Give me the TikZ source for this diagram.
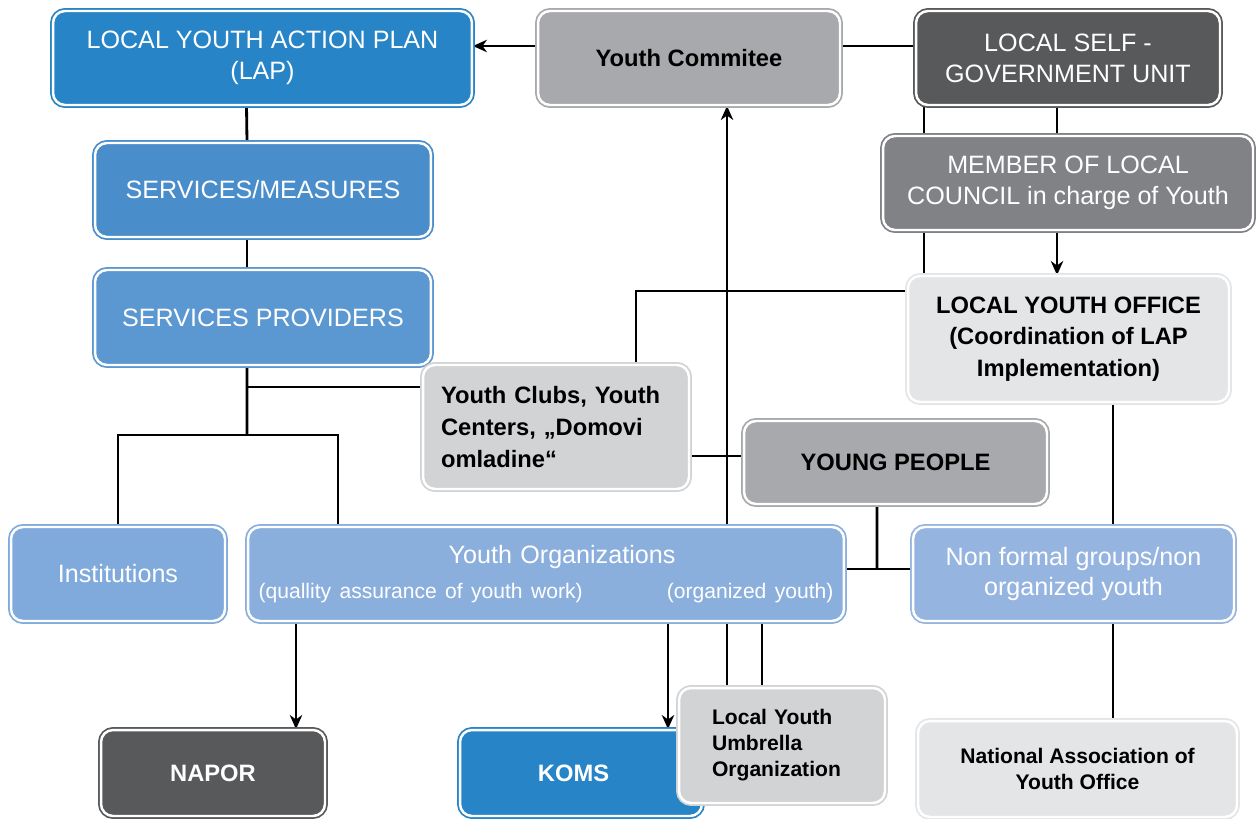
\documentclass[tikz,border=0pt]{standalone}
\usepackage{fontspec}
\setmainfont{Liberation Sans}
\usetikzlibrary{arrows.meta,backgrounds}
\definecolor{lapblue}{HTML}{2785C7}
\definecolor{measblue}{HTML}{4A8DCB}
\definecolor{provblue}{HTML}{5B97D0}
\definecolor{instblue}{HTML}{80AADB}
\definecolor{orgblue}{HTML}{8BAFDD}
\definecolor{nonfblue}{HTML}{95B5E0}
\definecolor{midgray}{HTML}{A7A9AC}
\definecolor{darkgray}{HTML}{58595B}
\definecolor{councilgray}{HTML}{808285}
\definecolor{clubgray}{HTML}{D1D3D4}
\definecolor{officegray}{HTML}{E4E5E6}
\newcommand{\whitefont}{\fontsize{14.3}{17.6}\selectfont}
\newcommand{\darkfont}{\bfseries\fontsize{13.5}{18}\selectfont}
\newcommand{\smallfont}{\bfseries\fontsize{12}{14.8}\selectfont}

\begin{document}
\begin{tikzpicture}[x=0.02cm,y=-0.02cm,
  box/.style={draw=#1,fill=#1,rounded corners=0.24cm,line width=1pt,
    double=white,double distance=1.4pt,align=center,inner sep=2pt},
  wtext/.style={text=white,font=\whitefont},
  dtext/.style={text=black,font=\darkfont},
  line/.style={line width=1.6pt,black},
  arr/.style={line,-{Stealth[length=8pt,width=7pt,inset=2.5pt]}}]
 \useasboundingbox (0,0) rectangle (1256,818);
 \clip (0,0) rectangle (1256,818);
 \begin{scope}[on background layer]
  \fill[white] (0,0) rectangle (1256,818);
 \end{scope}

 % top row
 \node[box=lapblue,wtext,minimum width=8.38cm,minimum height=1.88cm] (lap) at (262.5,58) {LOCAL YOUTH ACTION PLAN\\(LAP)};
 \node[box=midgray,dtext,minimum width=6.04cm,minimum height=1.88cm] (comm) at (689,58) {Youth Commitee};
 \node[box=darkgray,wtext,minimum width=6.08cm,minimum height=1.88cm] (lsgu) at (1068,58) {LOCAL SELF -\\GOVERNMENT UNIT};

 % left column
 \node[box=measblue,wtext,minimum width=6.72cm,minimum height=1.88cm] (serv) at (263,190) {SERVICES/MEASURES};
 \node[box=provblue,wtext,minimum width=6.72cm,minimum height=1.9cm] (prov) at (263,317.5) {SERVICES PROVIDERS};

 % right column
 \node[box=councilgray,wtext,minimum width=7.4cm,minimum height=1.88cm] (member) at (1068,183) {MEMBER OF LOCAL\\COUNCIL in charge of Youth};
 \node[box=officegray,dtext,minimum width=6.42cm,minimum height=2.52cm] (lyo) at (1068.5,339) {LOCAL YOUTH OFFICE\\(Coordination of LAP\\Implementation)};

 % middle
 \node[box=clubgray,dtext,minimum width=5.32cm,minimum height=2.48cm,text width=4.6cm,align=left] (clubs) at (556,427) {Youth Clubs, Youth\\Centers, „Domovi\\omladine“};
 \node[box=midgray,dtext,minimum width=6.06cm,minimum height=1.66cm] (young) at (895.5,462.5) {YOUNG PEOPLE};

 % youth row
 \node[box=instblue,wtext,minimum width=4.28cm,minimum height=1.88cm] (inst) at (118,574) {Institutions};
 \node[box=orgblue,wtext,minimum width=11.92cm,minimum height=1.88cm,text width=11.5cm] (yorg) at (546,574)
  {\hspace*{0.64cm}Youth Organizations\\[2pt]
   {\fontsize{12}{13}\selectfont\makebox[11.5cm]{(quallity assurance of youth work)\hfill(organized youth)}}};
 \node[box=nonfblue,wtext,minimum width=6.42cm,minimum height=1.88cm] (nonf) at (1073.5,574) {Non formal groups/non\\organized youth};

 % bottom row
 \node[box=darkgray,wtext,font=\darkfont,minimum width=4.48cm,minimum height=1.72cm] (napor) at (213,773) {NAPOR};
 \node[box=lapblue,wtext,font=\darkfont,minimum width=4.84cm,minimum height=1.72cm] (koms) at (581,773) {\hspace*{-0.3cm}KOMS};
 \node[box=clubgray,text=black,font=\smallfont,minimum width=4.12cm,minimum height=2.3cm,text width=2.8cm,align=left] (umb) at (782,745.5) {Local Youth\\Umbrella\\Organization};
 \node[box=officegray,text=black,font=\smallfont,minimum width=6.38cm,minimum height=1.92cm] (nat) at (1077.5,769) {National Association of\\Youth Office};

 \coordinate (split) at (247,435);
 \coordinate (jn) at (877,569);

 \begin{scope}[on background layer]
  \draw[arr] ([yshift=0.24cm]comm.west) -- ([yshift=0.24cm]lap.east);
  \draw[line] ([yshift=0.24cm]comm.east) -- ([yshift=0.24cm]lsgu.west);
  \draw[line] ([xshift=-0.32cm]lap.south) -- ([xshift=-0.32cm]serv.north);
  \draw[line] ([xshift=-0.32cm]serv.south) -- ([xshift=-0.32cm]prov.north);
  \draw[line] ([xshift=-0.32cm]prov.south) -- (split);
  \draw[line] ([yshift=0.8cm]clubs.west) -- ([yshift=0.8cm]clubs.west -| split);
  \draw[line] (split) -| (inst.north);
  \draw[line] (split) -| ([xshift=-4.16cm]yorg.north);
  \draw[line] ([xshift=-2.88cm]lsgu.south) -- ([xshift=-2.88cm]member.north);
  \draw[line] ([xshift=-0.22cm]lsgu.south) -- ([xshift=-0.22cm]member.north);
  \draw[line] ([xshift=-2.88cm]member.south) -- ([xshift=-2.88cm]member.south |- lyo.north);
  \draw[arr] ([xshift=-0.22cm]member.south) -- ([xshift=-0.22cm]member.south |- lyo.north);
  \draw[line] ([yshift=0.96cm]lyo.west) -| ([xshift=1.6cm]clubs.north);
  \draw[arr] ([xshift=-1.1cm]umb.north) -- ([xshift=-1.1cm]umb.north |- comm.south);
  \draw[line] ([xshift=-0.4cm]umb.north) -- ([xshift=-0.4cm]umb.north |- yorg.south);
  \draw[arr] ([xshift=1.66cm]napor.north |- yorg.south) -- ([xshift=1.66cm]napor.north);
  \draw[arr] ([xshift=1.74cm]koms.north |- yorg.south) -- ([xshift=1.74cm]koms.north);
  \draw[line] ([yshift=0.13cm]young.west) -- ([yshift=0.13cm]young.west -| clubs.east);
  \draw[line] ([xshift=-0.37cm]young.south) -- (jn);
  \draw[line] (yorg.east |- jn) -- (nonf.west |- jn);
  \draw[line] ([xshift=0.89cm]lyo.south) -- ([xshift=0.89cm]lyo.south |- nonf.north);
  \draw[line] ([xshift=0.79cm]nonf.south) -- ([xshift=0.79cm]nonf.south |- nat.north);
 \end{scope}
\end{tikzpicture}
\end{document}
